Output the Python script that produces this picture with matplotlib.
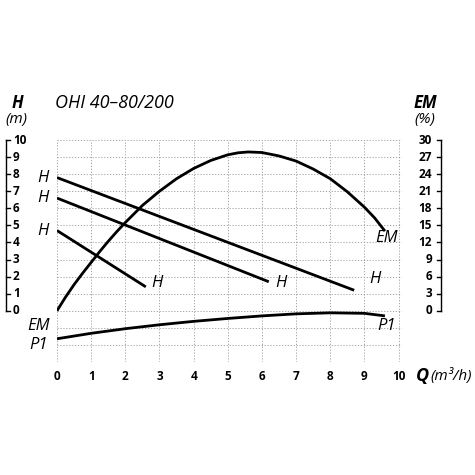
import matplotlib
matplotlib.use("Agg")
import matplotlib.pyplot as plt
plt.rcParams['font.family'] = ['Open Sans', 'DejaVu Sans']

h1_q = [0, 2.6]; h1 = [4.7, 1.4]
h2_q = [0, 6.2]; h2 = [6.6, 1.7]
h3_q = [0, 8.7]; h3 = [7.8, 1.2]
em_q = [0, 0.25, 0.5, 0.75, 1, 1.25, 1.5, 1.75, 2, 2.5, 3, 3.5, 4, 4.5, 5, 5.3, 5.6, 6, 6.5, 7, 7.5, 8, 8.5, 9, 9.3, 9.6]
em = [0, 2.4, 4.6, 6.6, 8.5, 10.4, 12.2, 13.9, 15.5, 18.5, 21, 23.2, 25, 26.4, 27.4, 27.75, 27.9, 27.8, 27.2, 26.3, 24.9, 23.2, 20.9, 18.2, 16.3, 14]
p1_q = [0, 1, 2, 3, 4, 5, 6, 7, 8, 9, 9.6]
p1 = [-1.64, -1.32, -1.05, -0.82, -0.62, -0.45, -0.3, -0.18, -0.12, -0.15, -0.3]
x_ticks = list(range(0, 11))
h_ticks = list(range(0, 11))
em_ticks = [0, 3, 6, 9, 12, 15, 18, 21, 24, 27, 30]

W = 475
fig = plt.figure(figsize=(4.75, 4.75), dpi=100)
ax = fig.add_axes([57/W, (475-362)/W, 345/W, 222/W])
ax.set_xlim(0, 10.1); ax.set_ylim(-3, 10)
for s in ax.spines.values(): s.set_visible(False)
ax.set_xticks([]); ax.set_yticks([])
for q in x_ticks:
    ax.plot([q, q], [-3, 10], ls=(0, (1.5, 2)), color='#999999', lw=0.6)
for y in range(-3, 11):
    ax.plot([0, 10.1], [y, y], ls=(0, (1.5, 2)), color='#999999', lw=0.6)

kw = dict(color='black', lw=2, solid_capstyle='butt')
ax.plot(h1_q, h1, **kw); ax.plot(h2_q, h2, **kw); ax.plot(h3_q, h3, **kw)
ax.plot(em_q, [v / 3 for v in em], **kw)
ax.plot(p1_q, p1, **kw)

xl = -1.49
ax.plot([xl, xl], [0, 10], color='black', lw=1, clip_on=False)
for t in h_ticks:
    ax.plot([xl, xl + 0.1], [t, t], color='black', lw=1, clip_on=False)
    ax.text(xl + 0.2, t, str(t), ha='left', va='center', fontsize=8.5, fontweight='bold')
xr = 11.23
ax.plot([xr, xr], [0, 10], color='black', lw=1, clip_on=False)
for t in em_ticks:
    ax.plot([xr - 0.1, xr], [t / 3, t / 3], color='black', lw=1, clip_on=False)
    ax.text(xr - 0.25, t / 3, str(t), ha='right', va='center', fontsize=8.5, fontweight='bold')
for q in x_ticks:
    ax.text(q, -3.85, str(q), ha='center', va='center', fontsize=8.5, fontweight='bold')

it = dict(fontsize=12, style='italic', ha='center', va='center')
ax.text(-0.4, 7.8, 'H', **it); ax.text(-0.4, 6.6, 'H', **it); ax.text(-0.4, 4.7, 'H', **it)
ax.text(2.93, 1.6, 'H', **it); ax.text(6.55, 1.6, 'H', **it); ax.text(9.3, 1.85, 'H', **it)
ax.text(9.65, 4.25, 'EM', **it); ax.text(9.65, -0.9, 'P1', **it)
ax.text(-0.55, -0.9, 'EM', **it); ax.text(-0.55, -2.0, 'P1', **it)

fig.text(12/W, 1 - 103/W, 'H', fontsize=12, fontweight='bold', style='italic', ha='left', va='center')
fig.text(5/W, 1 - 120/W, '(m)', fontsize=11, style='italic', ha='left', va='center')
fig.text(55/W, 1 - 103/W, 'OHI 40–80/200', fontsize=13, style='italic', ha='left', va='center')
fig.text(425/W, 1 - 103/W, 'EM', fontsize=12, fontweight='bold', style='italic', ha='center', va='center')
fig.text(425/W, 1 - 120/W, '(%)', fontsize=11, style='italic', ha='center', va='center')
fig.text(416/W, 1 - 376/W, 'Q', fontsize=13, fontweight='bold', style='italic', ha='left', va='center')
fig.text(430/W, 1 - 376/W, '(m³/h)', fontsize=11, style='italic', ha='left', va='center')

fig.savefig('out.png', dpi=100, facecolor='white')
